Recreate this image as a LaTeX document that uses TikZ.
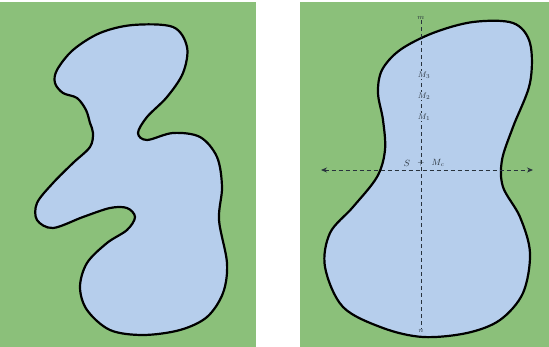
\documentclass[tikz,border=0pt]{standalone}
\usetikzlibrary{arrows.meta}
\definecolor{bggreen}{RGB}{139,192,122}
\definecolor{lakeblue}{RGB}{182,206,236}
\definecolor{axisgray}{RGB}{40,50,60}
\tikzset{
  panel/.style={fill=bggreen,draw=none},
  lake/.style={fill=lakeblue,draw=black,line width=2.2pt,line join=round},
  axisline/.style={draw=axisgray,line width=0.8pt,dash pattern=on 4pt off 3pt},
  smalllabel/.style={font=\footnotesize,text=axisgray,inner sep=0.5pt}
}
\begin{document}
\begin{tikzpicture}[x=1pt,y=-1pt]
\useasboundingbox (0,0) rectangle (549,347);
\fill[panel] (0,2) rectangle (256,347);
\fill[panel] (300,2) rectangle (549,347);
% left lake
\draw[lake] plot[smooth cycle,tension=0.55] coordinates {
 (133,25) (173,27) (187,47) (183,73) (167,97) (147,117) (138,133) (147,140)
 (173,133) (200,137) (217,157) (222,187) (219,220) (227,263)
 (223,293) (207,317) (180,330) (143,335) (110,330) (87,310) (80,287)
 (87,263) (107,243) (127,230) (135,217) (127,208) (110,208) (83,217)
 (53,228) (37,220) (37,203) (53,183) (73,163) (90,147) (93,133) (90,123)
 (86,110) (77,98) (63,93) (55,83) (57,70) (73,50) (100,33)};
% right lake
\draw[lake] plot[smooth cycle,tension=0.55] coordinates {
 (473,22) (513,23) (530,43) (530,83) (513,127) (502,160) (503,187)
 (520,217) (530,253) (523,293) (500,320) (467,333) (423,337) (383,328)
 (343,307) (325,267) (330,233) (353,207) (377,177) (385,150) (383,120)
 (378,93) (382,70) (400,50) (433,33)};
% axes
\node[smalllabel,font=\scriptsize] (top) at (421,18) {$m$};
\node[smalllabel,font=\scriptsize] (bot) at (421,331) {$n$};
\coordinate (L) at (321,170);
\coordinate (R) at (533,170);
\draw[axisline] (top) -- (bot);
\draw[axisline,{Stealth[length=6pt,width=5pt]}-{Stealth[length=6pt,width=5pt]}] (L) -- (R);
\node[smalllabel,fill=lakeblue] (p3) at (424,75) {$M_3$};
\node[smalllabel,fill=lakeblue] (p2) at (424,96) {$M_2$};
\node[smalllabel,fill=lakeblue] (p1) at (424,117) {$M_1$};
\node[smalllabel,font=\small] (S) at (407,163) {$S$};
\node[smalllabel,font=\small] (plus) at (421,163) {$+$};
\node[smalllabel,font=\small] (Mc) at (438,163) {$M_c$};
\end{tikzpicture}
\end{document}
